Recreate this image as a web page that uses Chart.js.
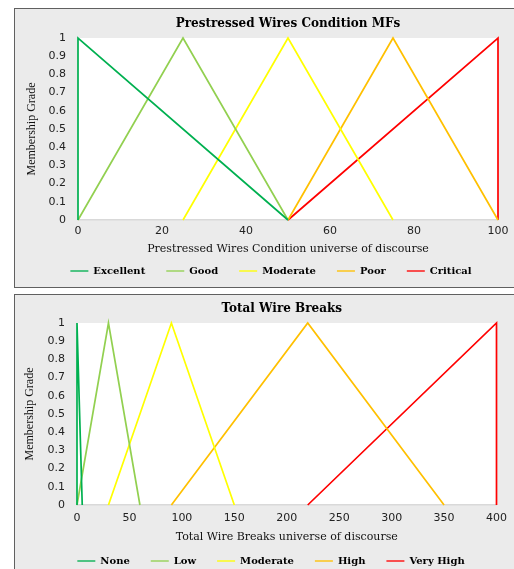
<!DOCTYPE html>
<html>
<head>
<meta charset="utf-8">
<script src="https://cdn.jsdelivr.net/npm/chart.js@4.4.1/dist/chart.umd.min.js"></script>
<style>
  html, body { margin: 0; padding: 0; background: #fff; overflow: hidden; width: 514px; height: 569px; }
  .panel { position: absolute; left: 14px; width: 520px; background: #ebebeb; border: 1.5px solid #606060; box-sizing: border-box; }
  #p1 { top: 8px; height: 280px; }
  #p2 { top: 294px; height: 300px; }
  .wrap { position: absolute; left: 0; width: 514px; }
  #w1 { top: 0; height: 288px; }
  #w2 { top: 288px; height: 300px; }
</style>
</head>
<body>
<div class="panel" id="p1"></div>
<div class="panel" id="p2"></div>
<div class="wrap" id="w1"><canvas id="condChart"></canvas></div>
<div class="wrap" id="w2"><canvas id="breakChart"></canvas></div>

<script>
// ── Data ──────────────────────────────────────────────────────
const gradeTicks = [0, 0.1, 0.2, 0.3, 0.4, 0.5, 0.6, 0.7, 0.8, 0.9, 1];
const mfColors = ['#00B050', '#92D050', '#FFFF00', '#FFC000', '#FF0000'];

// Prestressed wires condition MFs  [x, grade]
const condNames = ['Excellent', 'Good', 'Moderate', 'Poor', 'Critical'];
const condExcellent = [[0, 0], [0, 1], [50, 0]];
const condGood      = [[0, 0], [25, 1], [50, 0]];
const condModerate  = [[25, 0], [50, 1], [75, 0]];
const condPoor      = [[50, 0], [75, 1], [100, 0]];
const condCritical  = [[50, 0], [100, 1], [100, 0]];
const condTicks = [0, 20, 40, 60, 80, 100];

// Total wire breaks MFs  [x, grade]
const breakNames = ['None', 'Low', 'Moderate', 'High', 'Very High'];
const breakNone     = [[0, 0], [0, 1], [5, 0]];
const breakLow      = [[0, 0], [30, 1], [60, 0]];
const breakModerate = [[30, 0], [90, 1], [150, 0]];
const breakHigh     = [[90, 0], [220, 1], [350, 0]];
const breakVeryHigh = [[220, 0], [400, 1], [400, 0]];
const breakTicks = [0, 50, 100, 150, 200, 250, 300, 350, 400];

// ── Plugins ───────────────────────────────────────────────────
const plotBg = {
  id: 'plotBg',
  beforeDraw(chart) {
    const { ctx, chartArea: a } = chart;
    ctx.save();
    ctx.fillStyle = '#fff';
    ctx.fillRect(a.left, a.top, a.right - a.left, a.bottom - a.top);
    ctx.restore();
  }
};

const panelTitle = {
  id: 'panelTitle',
  afterDraw(chart, args, opts) {
    const { ctx, chartArea: a } = chart;
    ctx.save();
    ctx.font = 'bold 12px "DejaVu Serif"';
    ctx.fillStyle = '#000';
    ctx.textAlign = 'center';
    ctx.textBaseline = 'middle';
    ctx.fillText(opts.text, (a.left + a.right) / 2 + (opts.dx || 0), opts.y);
    ctx.restore();
  }
};

// ── Chart builder ─────────────────────────────────────────────
function renderMfChart(id, o) {
  const tickFont = { family: 'DejaVu Sans', size: 11 };
  new Chart(document.getElementById(id), {
    type: 'line',
    data: {
      datasets: o.series.map((s, i) => ({
        label: o.names[i],
        data: s.map(p => ({ x: p[0], y: p[1] })),
        borderColor: mfColors[i],
        backgroundColor: mfColors[i],
        borderWidth: 1.7,
        pointRadius: 0,
        tension: 0,
        clip: false
      }))
    },
    plugins: [plotBg, panelTitle],
    options: {
      responsive: true,
      maintainAspectRatio: false,
      animation: false,
      layout: { padding: o.pad },
      plugins: {
        panelTitle: { text: o.title, y: o.titleY, dx: o.titleDx },
        tooltip: { enabled: false },
        legend: {
          position: 'bottom',
          labels: {
            boxWidth: 18,
            boxHeight: 2,
            padding: 21,
            color: '#000',
            font: { family: 'DejaVu Serif', size: 10, weight: 'bold' },
            generateLabels: chart =>
              Chart.defaults.plugins.legend.labels.generateLabels(chart).map(l => ({
                ...l, lineWidth: 0, fillStyle: l.strokeStyle + 'aa'
              }))
          }
        }
      },
      scales: {
        x: {
          type: 'linear',
          min: o.xTicks[0],
          max: o.xTicks[o.xTicks.length - 1],
          afterBuildTicks: s => { s.ticks = o.xTicks.map(v => ({ value: v })); },
          afterFit: s => { s.height = o.xHeight; },
          ticks: { autoSkip: false, maxRotation: 0, padding: o.xTickPad, color: '#222', font: tickFont },
          grid: { display: false, drawTicks: false },
          border: { color: '#d9d9d9', width: 1.5 },
          title: {
            display: true, text: o.xTitle, color: '#111',
            font: { family: 'DejaVu Serif', size: 11 },
            padding: { top: 0, bottom: o.xTitlePad }
          }
        },
        y: {
          min: 0,
          max: 1,
          afterBuildTicks: s => { s.ticks = gradeTicks.map(v => ({ value: v })); },
          afterFit: s => { s.width = o.yWidth; },
          ticks: { autoSkip: false, padding: 12, color: '#222', font: tickFont, callback: v => String(v) },
          grid: { display: false, drawTicks: false },
          border: { display: false },
          title: {
            display: true, text: 'Membership Grade', color: '#111',
            font: { family: 'Liberation Serif', size: 12 },
            padding: { top: o.yTitlePad, bottom: 0 }
          }
        }
      }
    }
  });
}

renderMfChart('condChart', {
  title: 'Prestressed Wires Condition MFs',
  titleY: 24,
  titleDx: 0,
  names: condNames,
  series: [condExcellent, condGood, condModerate, condPoor, condCritical],
  xTicks: condTicks,
  xTitle: 'Prestressed Wires Condition universe of discourse',
  pad: { left: 44, right: 16, top: 38, bottom: 2 },
  yWidth: 34,
  xHeight: 25,
  xTickPad: 5,
  xTitlePad: -10.6,
  yTitlePad: -19.2
});

renderMfChart('breakChart', {
  title: 'Total Wire Breaks',
  titleY: 21,
  titleDx: -5,
  names: breakNames,
  series: [breakNone, breakLow, breakModerate, breakHigh, breakVeryHigh],
  xTicks: breakTicks,
  xTitle: 'Total Wire Breaks universe of discourse',
  pad: { left: 44, right: 16, top: 35, bottom: 12 },
  yWidth: 33,
  xHeight: 30,
  xTickPad: 7,
  xTitlePad: -8.6,
  yTitlePad: -21.2
});
</script>
</body>
</html>
